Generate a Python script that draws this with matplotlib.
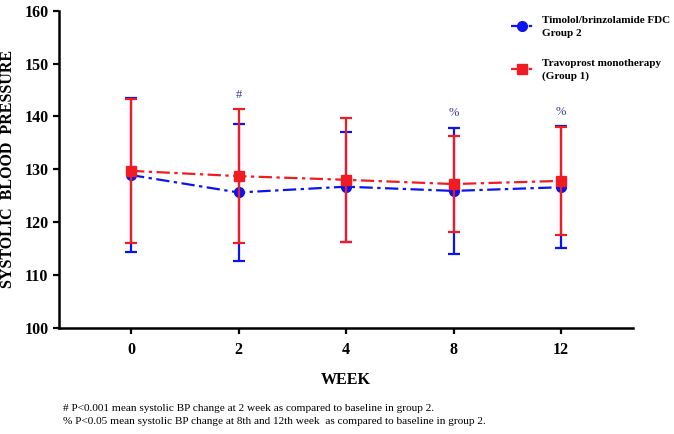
import matplotlib
matplotlib.use("Agg")
import matplotlib.pyplot as plt

weeks = ["0", "2", "4", "8", "12"]

# Group 2: Timolol/brinzolamide FDC
g2_mean = [128.9, 125.6, 126.7, 125.9, 126.6]
g2_sd = [14.6, 12.9, 10.4, 12.0, 11.6]

# Group 1: Travoprost monotherapy
g1_mean = [129.7, 128.7, 128.0, 127.2, 127.8]
g1_sd = [13.7, 12.7, 11.8, 9.1, 10.2]

# significance marks for group 2 (placed above the highest error bar)
sig_marks = ["", "#", "", "%", "%"]

footnotes = [
    "# P<0.001 mean systolic BP change at 2 week as compared to baseline in group 2.",
    "% P<0.05 mean systolic BP change at 8th and 12th week  as compared to baseline in group 2.",
]

BLUE = "#0a14f0"
RED = "#f01c24"
serif = "Liberation Serif"

plt.rcParams["font.family"] = serif

fig = plt.figure(figsize=(6.74, 4.34), dpi=100)
ax = fig.add_axes([0.0875, 0.245, 0.852, 0.73])

x = list(range(len(weeks)))
dash = (6, 2, 1.5, 2)

eb2 = ax.errorbar(x, g2_mean, yerr=g2_sd, color=BLUE, ecolor=BLUE, elinewidth=1.6,
                  capsize=4, capthick=1.6, marker="o", markersize=7, lw=1.6,
                  dashes=dash, zorder=2)
eb1 = ax.errorbar(x, g1_mean, yerr=g1_sd, color=RED, ecolor=RED, elinewidth=1.6,
                  capsize=4, capthick=1.6, marker="s", markersize=7.5, lw=1.6,
                  dashes=dash, zorder=3)

for i, mark in enumerate(sig_marks):
    if mark:
        top = max(g1_mean[i] + g1_sd[i], g2_mean[i] + g2_sd[i])
        ax.annotate(mark, xy=(i, top), xytext=(0, 6), textcoords="offset points",
                    ha="center", va="bottom", fontsize=9, color="#3c3c96")

ax.set_xlim(-0.67, 4.67)
ax.set_ylim(100, 160)
ax.set_yticks(range(100, 161, 10))
ax.set_xticks(x)
ax.set_xticklabels(weeks)

for side in ["top", "right"]:
    ax.spines[side].set_visible(False)
for side in ["left", "bottom"]:
    ax.spines[side].set_linewidth(1.8)
ax.tick_params(axis="both", width=1.6, length=4.5, labelsize=11.5)
ax.tick_params(axis="y", pad=3)
ax.tick_params(axis="x", pad=6)
for lab in ax.get_xticklabels() + ax.get_yticklabels():
    lab.set_fontweight("bold")

ax.set_xlabel("WEEK", fontsize=11.5, fontweight="bold", labelpad=10)
ax.set_ylabel("SYSTOLIC  BLOOD  PRESSURE", fontsize=11.5, fontweight="bold")
ax.yaxis.set_label_coords(-0.074, 0.5)

leg = ax.legend([eb2[0], eb1[0]],
                ["Timolol/brinzolamide FDC\nGroup 2", "Travoprost monotherapy\n(Group 1)"],
                loc="upper left", bbox_to_anchor=(0.77, 1.015), frameon=False,
                prop={"family": serif, "weight": "bold", "size": 8},
                handlelength=2.0, handletextpad=0.8, labelspacing=1.9)
for t in leg.get_texts():
    t.set_linespacing(1.5)

fig.text(0.093, 0.058, footnotes[0], fontsize=8.1, ha="left", va="center")
fig.text(0.093, 0.028, footnotes[1], fontsize=8.1, ha="left", va="center")

fig.savefig("out.png", dpi=100)
